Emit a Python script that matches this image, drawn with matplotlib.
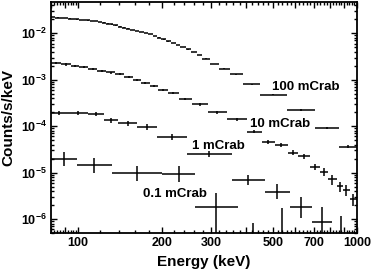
import numpy as np
import matplotlib
matplotlib.use('Agg')
import matplotlib.pyplot as plt
from matplotlib.ticker import FixedLocator, FixedFormatter, LogLocator, LogFormatterMathtext, NullFormatter

plt.rcParams['font.family'] = 'Liberation Sans'
plt.rcParams['font.weight'] = 'bold'
plt.rcParams['mathtext.fontset'] = 'custom'
plt.rcParams['mathtext.rm'] = 'Liberation Sans:bold'
plt.rcParams['mathtext.default'] = 'regular'

# 100 mCrab spectrum: energy bin edges (keV), rate and error (counts/s/keV)
edges100 = [80, 83, 86, 89, 92, 95, 98, 101, 104, 107, 110, 114, 118, 122, 126, 130, 134, 139,
            144, 149, 154, 160, 166, 172, 178, 185, 192, 199, 207, 215, 224, 233, 243, 254, 266,
            278, 298, 320, 350, 390, 450, 560, 710, 860, 1000]
rate100 = [0.0223, 0.0218, 0.0214, 0.0210, 0.0206, 0.0202, 0.0199, 0.0195, 0.0192, 0.0189,
           0.0185, 0.0182, 0.0177, 0.0170, 0.0162, 0.0155, 0.0147, 0.0139, 0.0132, 0.0126,
           0.0119, 0.0113, 0.0107, 0.0102, 0.00962, 0.00879, 0.00805, 0.00735, 0.00669, 0.00609,
           0.00553, 0.00501, 0.00451, 0.00395, 0.00342, 0.00285, 0.00217, 0.00173, 0.00131,
           0.000807, 0.000477, 0.000222, 9.2e-5, 3.6e-5]
err100 = [2.2e-4, 2.2e-4, 2.1e-4, 2.1e-4, 2.0e-4, 2.0e-4, 2.0e-4, 1.9e-4, 1.9e-4, 1.9e-4,
          1.8e-4, 1.8e-4, 1.8e-4, 1.7e-4, 1.6e-4, 1.5e-4, 1.5e-4, 1.4e-4, 1.3e-4, 1.3e-4,
          1.2e-4, 1.1e-4, 1.1e-4, 1.0e-4, 1.0e-4, 9e-5, 8e-5, 7e-5, 7e-5, 6e-5,
          6e-5, 5e-5, 5e-5, 4e-5, 4e-5, 4e-5, 3.5e-5, 3e-5, 2.6e-5, 2.0e-5, 1.4e-5, 8e-6,
          5e-6, 2.5e-6]

# 10 mCrab
edges10 = [80, 87, 94, 101, 109, 117, 126, 136, 146, 158, 168, 181, 194, 210, 230, 256, 292,
           342, 403, 456, 508, 566, 614, 679, 737, 787, 848, 891, 944, 1000]
rate10 = [0.00231, 0.00213, 0.00197, 0.00185, 0.00170, 0.00156, 0.00143, 0.00131, 0.00117,
          0.00101, 8.49e-4, 7.43e-4, 6.0e-4, 5.25e-4, 3.84e-4, 2.96e-4, 1.98e-4, 1.40e-4,
          7.65e-5, 4.61e-5, 3.92e-5, 2.67e-5, 2.27e-5, 1.33e-5, 1.04e-5, 7.13e-6, 5.12e-6,
          4.20e-6, 2.69e-6]
err10 = [1.2e-4, 1.1e-4, 1.0e-4, 9e-5, 9e-5, 8e-5, 7e-5, 7e-5, 6e-5, 5e-5, 5e-5, 4.5e-5,
         3.6e-5, 3.2e-5, 2.7e-5, 2.1e-5, 1.6e-5, 1.1e-5, 6.9e-6, 4.6e-6, 3.9e-6, 3.2e-6,
         3.0e-6, 2.1e-6, 2.1e-6, 1.6e-6, 1.3e-6, 1.1e-6, 8e-7]

# 1 mCrab
edges1 = [80, 92, 109, 124, 139, 163, 192, 246, 356, 468, 575, 690, 814, 944]
rate1 = [1.94e-4, 1.89e-4, 1.80e-4, 1.35e-4, 1.15e-4, 9.42e-5, 5.82e-5, 2.51e-5, 6.89e-6,
         3.86e-6, 1.78e-6, 8.7e-7, 3.0e-7]
err1_lo = [1.8e-5, 1.8e-5, 1.7e-5, 1.6e-5, 1.3e-5, 1.3e-5, 8.1e-6, 3.5e-6, 1.5e-6, 1.2e-6,
           7.2e-7, 4.5e-7, 1.5e-7]
err1_hi = [2.0e-5, 2.0e-5, 1.9e-5, 1.8e-5, 1.5e-5, 1.5e-5, 9.4e-6, 4.0e-6, 1.9e-6, 1.7e-6,
           1.2e-6, 9.3e-7, 8.6e-7]

# 0.1 mCrab
edges01 = [80, 99, 132, 200, 263, 374, 479, 604]
rate01 = [1.92e-5, 1.45e-5, 9.6e-6, 9.3e-6, 1.83e-6, 3.0e-7, 3.0e-7]
err01_lo = [5.6e-6, 4.5e-6, 3.0e-6, 3.0e-6, 1.5e-6, 2.5e-7, 2.5e-7]
err01_hi = [8.0e-6, 6.6e-6, 4.3e-6, 4.5e-6, 1.78e-6, 5.2e-7, 1.42e-6]

labels = ['100 mCrab', '10 mCrab', '1 mCrab', '0.1 mCrab']
label_x = [495, 413, 256, 171]
label_y = [7.0e-4, 1.12e-4, 3.8e-5, 3.4e-6]

fig = plt.figure(figsize=(3.74, 2.73), dpi=100)
ax = fig.add_axes([0.1364, 0.1465, 0.818, 0.846])

def draw(edges, rate, yerr):
    e = np.array(edges, dtype=float)
    c = np.sqrt(e[:-1] * e[1:])
    xerr = [c - e[:-1], e[1:] - c]
    ax.errorbar(c, rate, xerr=xerr, yerr=yerr, fmt='none', ecolor='black',
                elinewidth=1.1, capsize=0)

draw(edges100, rate100, err100)
draw(edges10, rate10, err10)
draw(edges1, rate1, [err1_lo, err1_hi])
draw(edges01, rate01, [err01_lo, err01_hi])

for t, x, y in zip(labels, label_x, label_y):
    ax.text(x, y, t, ha='left', va='center', fontsize=9.5, fontweight='bold')

ax.set_xscale('log')
ax.set_yscale('log')
ax.set_xlim(80, 1000)
ax.set_ylim(5e-7, 0.047)

xmajor = [80, 90, 100, 200, 300, 400, 500, 600, 700, 800, 900, 1000]
xlabels = ['', '', '100', '200', '300', '', '500', '', '700', '', '', '1000']
xminor = list(range(82, 100, 2)) + [m for m in range(120, 1000, 20) if m % 100 != 0]
ax.xaxis.set_major_locator(FixedLocator(xmajor))
ax.xaxis.set_major_formatter(FixedFormatter(xlabels))
ax.xaxis.set_minor_locator(FixedLocator(xminor))
ax.xaxis.set_minor_formatter(NullFormatter())

ax.yaxis.set_major_locator(LogLocator(base=10, numticks=20))
ax.yaxis.set_major_formatter(LogFormatterMathtext())
ax.yaxis.set_minor_locator(LogLocator(base=10, subs=np.arange(2, 10), numticks=20))
ax.yaxis.set_minor_formatter(NullFormatter())

ax.tick_params(which='both', direction='in', top=True, right=True, width=1.0)
ax.tick_params(which='major', length=4, labelsize=9, pad=3)
ax.tick_params(which='minor', length=2)
for s in ax.spines.values():
    s.set_linewidth(1.3)

ax.set_xlabel('Energy (keV)', fontsize=11, fontweight='bold', labelpad=4)
ax.set_ylabel('Counts/s/keV', fontsize=11, fontweight='bold')
ax.yaxis.set_label_coords(-0.115, 0.5)

fig.savefig('out.png', dpi=100)
